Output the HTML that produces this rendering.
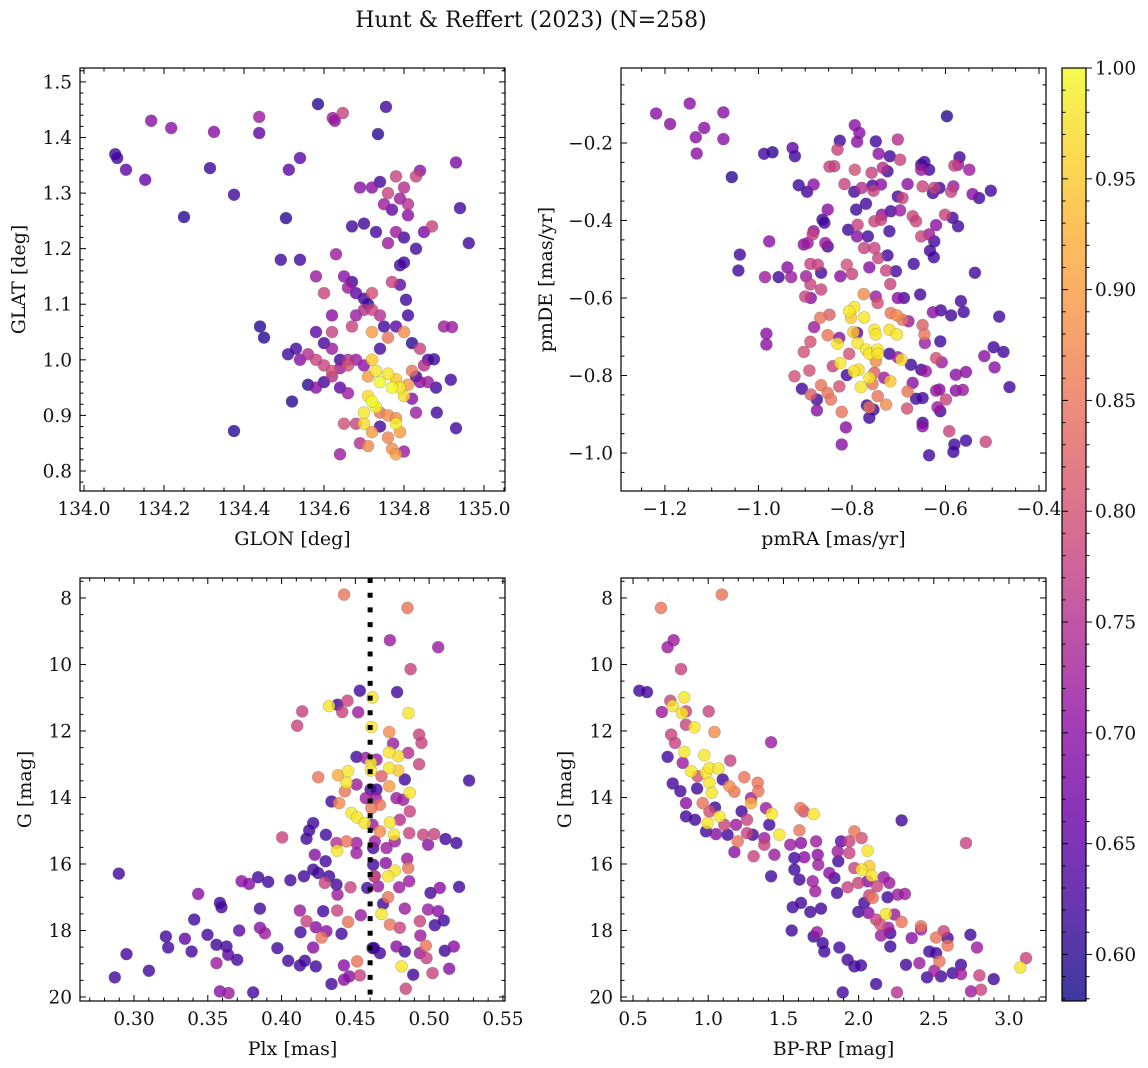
<!DOCTYPE html>
<html><head><meta charset="utf-8"><style>
html,body{margin:0;padding:0;background:#fff;}
svg{display:block;font-family:"DejaVu Serif","Liberation Serif",serif;}
</style></head><body>
<svg id="fig" width="1148" height="1068" viewBox="0 0 1148 1068" xmlns="http://www.w3.org/2000/svg">
<defs>
<linearGradient id="plasmaGrad" x1="0" y1="1" x2="0" y2="0"></linearGradient>
</defs>
<text x="531" y="27" font-size="22" text-anchor="middle" fill="#111">Hunt &amp; Reffert (2023) (N=258)</text>
</svg>
<script>
// ---- data (data units: [x, y, colour value]) ----
const glonGlatPts = [
[134.078,1.370,.62],[134.083,1.363,.62],[134.105,1.342,.65],[134.153,1.324,.66],[134.168,1.430,.70],[134.218,1.417,.70],[134.25,1.257,.60],[134.325,1.41,.70],[134.315,1.345,.62],[134.375,0.872,.60],[134.375,1.297,.62],[134.438,1.437,.72],[134.438,1.408,.65],[134.505,1.255,.60],[134.492,1.18,.62],[134.512,1.342,.65],[134.54,1.363,.65],[134.585,1.46,.60],[134.622,1.435,.72],[134.627,1.43,.70],[134.647,1.444,.78],[134.755,1.455,.62],[134.735,1.406,.60],[134.93,1.355,.68],[134.94,1.273,.62],[134.962,1.21,.62],[134.92,1.059,.72],[134.875,1.001,.62],[134.917,0.964,.62],[134.882,0.905,.62],[134.93,0.877,.62],[134.805,1.108,.62],
[134.72,1.31,.7],[134.74,1.32,.62],[134.76,1.30,.78],[134.78,1.33,.78],[134.80,1.31,.75],[134.79,1.29,.72],[134.81,1.28,.75],[134.83,1.33,.78],[134.84,1.34,.7],[134.77,1.27,.65],[134.75,1.28,.72],[134.73,1.23,.62],[134.81,1.26,.7],[134.85,1.23,.68],[134.87,1.24,.78],[134.80,1.22,.62],[134.83,1.20,.62],[134.78,1.23,.72],[134.76,1.21,.72],[134.79,1.17,.62],[134.80,1.175,.62],[134.69,1.31,.7],[134.70,1.245,.62],[134.67,1.24,.62],
[134.54,1.18,.62],[134.58,1.15,.72],[134.60,1.12,.78],[134.62,1.05,.78],[134.63,1.19,.72],[134.65,1.15,.7],[134.66,1.13,.72],[134.67,1.14,.62],[134.68,1.12,.65],[134.70,1.11,.62],[134.71,1.10,.6],[134.72,1.09,.78],[134.74,1.08,.75],[134.75,1.06,.62],[134.77,1.14,.78],[134.79,1.135,.65],[134.81,1.08,.62],[134.78,1.06,.65],[134.72,1.12,.8],[134.68,1.08,.72],[134.70,1.09,.75],[134.67,1.06,.78],[134.62,1.08,.7],[134.58,1.05,.65],[134.60,1.03,.62],[134.44,1.06,.6],[134.45,1.04,.6],[134.51,1.01,.62],[134.53,1.02,.62],[134.54,1.00,.7],[134.52,0.925,.6],[134.62,1.02,.72],[134.64,1.0,.62],[134.66,1.00,.75],
[134.56,1.01,.75],[134.58,1.00,.78],[134.60,0.99,.78],[134.62,0.98,.8],[134.64,0.985,.72],[134.66,0.99,.8],[134.68,1.00,.72],[134.70,0.99,.7],[134.72,1.05,.9],[134.76,1.04,.85],[134.74,1.02,.62],[134.80,1.05,.88],[134.82,1.03,.6],[134.60,0.96,.62],[134.62,0.97,.75],[134.64,0.95,.65],[134.66,0.94,.72],[134.58,0.95,.7],[134.56,0.955,.6],[134.72,1.00,.95],[134.73,0.98,.98],[134.71,0.97,.9],[134.74,0.96,1.0],[134.76,0.975,.98],[134.78,0.965,.95],[134.77,0.95,1.0],[134.79,0.95,.98],[134.80,0.935,.97],[134.81,0.955,.9],[134.71,0.935,.97],[134.72,0.925,1.0],[134.73,0.915,.99],[134.70,0.905,.98],[134.74,0.905,.85],[134.76,0.9,.88],[134.78,0.895,.88],[134.70,0.885,.97],[134.68,0.885,.78],[134.72,0.87,.9],[134.74,0.88,.62],[134.76,0.86,.87],[134.78,0.885,.99],[134.79,0.87,.9],[134.77,0.84,.88],[134.78,0.83,.9],[134.71,0.845,.88],[134.69,0.85,.75],[134.64,0.83,.72],[134.65,0.885,.8],[134.80,0.835,.72],[134.83,0.97,.62],[134.84,0.96,.7],[134.85,0.99,.75],[134.86,0.96,.72],[134.82,0.93,.7],[134.83,0.905,.72],[134.88,0.95,.62],[134.82,0.98,.85],[134.86,1.00,.62],[134.84,1.02,.78],[134.90,1.06,.72]
];
const pmPts = [
[-1.219,-0.124,.7],[-1.189,-0.151,.7],[-1.147,-0.098,.7],[-1.116,-0.161,.7],[-1.134,-0.185,.7],[-1.132,-0.227,.7],[-1.075,-0.121,.7],[-1.075,-0.190,.7],[-1.057,-0.288,.6],[-0.988,-0.228,.62],[-0.970,-0.224,.6],[-0.927,-0.213,.65],[-0.922,-0.234,.62],[-0.914,-0.309,.62],[-0.882,-0.307,.7],[-0.896,-0.326,.62],[-0.597,-0.131,.6],[-0.977,-0.454,.7],[-1.040,-0.488,.62],[-1.043,-0.529,.62],[-0.986,-0.546,.72],[-0.957,-0.546,.62],[-0.930,-0.546,.72],[-0.983,-0.692,.7],[-0.983,-0.720,.7],
[-0.794,-0.154,.7],[-0.784,-0.174,.7],[-0.789,-0.197,.7],[-0.826,-0.194,.62],[-0.831,-0.217,.78],[-0.749,-0.196,.62],[-0.702,-0.191,.75],[-0.743,-0.228,.7],[-0.719,-0.234,.62],[-0.697,-0.243,.78],[-0.838,-0.260,.78],[-0.848,-0.261,.78],[-0.794,-0.269,.8],[-0.758,-0.277,.78],[-0.734,-0.264,.75],[-0.724,-0.273,.62],[-0.816,-0.306,.78],[-0.795,-0.326,.62],[-0.779,-0.316,.75],[-0.754,-0.323,.78],[-0.756,-0.310,.62],[-0.738,-0.307,.7],[-0.702,-0.338,.62],[-0.692,-0.342,.78],[-0.681,-0.306,.7],[-0.652,-0.256,.62],[-0.645,-0.249,.62],[-0.652,-0.269,.72],[-0.635,-0.269,.62],[-0.649,-0.312,.78],[-0.624,-0.316,.78],[-0.627,-0.329,.62],[-0.613,-0.316,.62],[-0.581,-0.258,.78],[-0.570,-0.237,.62],[-0.573,-0.256,.72],[-0.549,-0.269,.72],[-0.583,-0.312,.72],[-0.588,-0.326,.78],[-0.542,-0.332,.7],[-0.528,-0.342,.62],[-0.503,-0.323,.62],
[-0.852,-0.372,.7],[-0.863,-0.398,.62],[-0.859,-0.406,.62],[-0.882,-0.428,.7],[-0.884,-0.436,.78],[-0.903,-0.462,.7],[-0.895,-0.458,.72],[-0.857,-0.458,.72],[-0.852,-0.467,.62],[-0.791,-0.372,.62],[-0.770,-0.357,.62],[-0.752,-0.402,.78],[-0.738,-0.398,.78],[-0.736,-0.385,.7],[-0.717,-0.376,.62],[-0.697,-0.374,.72],[-0.670,-0.389,.78],[-0.663,-0.402,.78],[-0.620,-0.412,.7],[-0.601,-0.385,.78],[-0.585,-0.393,.62],[-0.573,-0.415,.62],[-0.808,-0.424,.62],[-0.788,-0.411,.78],[-0.789,-0.441,.7],[-0.766,-0.441,.62],[-0.720,-0.428,.62],[-0.652,-0.441,.78],[-0.635,-0.436,.72],[-0.624,-0.454,.62],[-0.633,-0.478,.62],[-0.625,-0.495,.62],[-0.774,-0.471,.78],[-0.752,-0.471,.78],[-0.744,-0.497,.78],[-0.724,-0.490,.62],[-0.668,-0.512,.62],[-0.889,-0.512,.78],[-0.873,-0.514,.78],[-0.866,-0.535,.62],[-0.938,-0.521,.7],[-0.898,-0.544,.72],[-0.889,-0.565,.78],[-0.900,-0.596,.78],[-0.888,-0.600,.7],[-0.866,-0.578,.78],[-0.825,-0.544,.7],[-0.811,-0.514,.8],[-0.800,-0.538,.78],[-0.763,-0.521,.7],[-0.727,-0.529,.78],[-0.706,-0.531,.62],[-0.718,-0.564,.78],[-0.537,-0.535,.62],
[-0.775,-0.590,.88],[-0.749,-0.596,.72],[-0.745,-0.613,.8],[-0.702,-0.600,.7],[-0.689,-0.600,.62],[-0.654,-0.591,.62],[-0.567,-0.608,.62],[-0.627,-0.637,.7],[-0.610,-0.632,.62],[-0.588,-0.645,.62],[-0.561,-0.636,.62],[-0.485,-0.648,.62],[-0.868,-0.651,.85],[-0.848,-0.643,.82],[-0.795,-0.624,.98],[-0.806,-0.634,.98],[-0.802,-0.651,.95],[-0.774,-0.650,.98],[-0.717,-0.639,.85],[-0.704,-0.645,.88],[-0.692,-0.656,.85],[-0.679,-0.660,.72],[-0.752,-0.682,.98],[-0.749,-0.694,.98],[-0.720,-0.682,.97],[-0.704,-0.694,.98],[-0.797,-0.688,.95],[-0.789,-0.690,.65],[-0.788,-0.716,.98],[-0.649,-0.670,.82],[-0.645,-0.694,.85],[-0.644,-0.716,.72],[-0.611,-0.712,.62],[-0.881,-0.675,.72],[-0.852,-0.696,.85],[-0.831,-0.718,.98],[-0.827,-0.703,.7],[-0.889,-0.713,.8],[-0.903,-0.739,.8],[-0.806,-0.744,.8],[-0.770,-0.733,.98],[-0.763,-0.744,.98],[-0.745,-0.733,.98],[-0.745,-0.744,.98],[-0.749,-0.763,.88],[-0.720,-0.744,.62],[-0.702,-0.753,.72],[-0.694,-0.759,.97],[-0.674,-0.772,.62],[-0.652,-0.785,.62],[-0.642,-0.789,.72],[-0.620,-0.755,.8],[-0.608,-0.766,.72],[-0.517,-0.750,.7],[-0.497,-0.727,.62],[-0.476,-0.739,.62],[-0.495,-0.779,.7],[-0.463,-0.830,.62],[-0.578,-0.798,.7],[-0.556,-0.791,.7],
[-0.841,-0.776,.78],[-0.825,-0.768,.98],[-0.811,-0.799,.62],[-0.796,-0.789,.98],[-0.786,-0.785,.97],[-0.763,-0.806,.98],[-0.752,-0.793,.82],[-0.718,-0.815,.95],[-0.781,-0.830,.98],[-0.756,-0.822,.85],[-0.731,-0.806,.72],[-0.681,-0.841,.85],[-0.670,-0.819,.7],[-0.663,-0.860,.62],[-0.649,-0.858,.62],[-0.923,-0.802,.8],[-0.891,-0.787,.8],[-0.907,-0.834,.62],[-0.888,-0.849,.82],[-0.866,-0.825,.85],[-0.852,-0.845,.85],[-0.845,-0.862,.85],[-0.875,-0.862,.62],[-0.827,-0.828,.8],[-0.822,-0.894,.85],[-0.875,-0.890,.7],[-0.763,-0.882,.85],[-0.768,-0.877,.62],[-0.763,-0.909,.62],[-0.754,-0.888,.62],[-0.745,-0.853,.85],[-0.727,-0.875,.88],[-0.682,-0.885,.8],[-0.620,-0.839,.72],[-0.617,-0.882,.72],[-0.611,-0.892,.62],[-0.613,-0.836,.7],[-0.599,-0.862,.78],[-0.578,-0.839,.7],[-0.563,-0.837,.72],[-0.649,-0.922,.62],[-0.649,-0.931,.7],[-0.592,-0.944,.78],[-0.556,-0.968,.62],[-0.581,-0.978,.62],[-0.583,-0.997,.62],[-0.514,-0.971,.78],[-0.635,-1.006,.62],[-0.813,-0.934,.7],[-0.822,-0.978,.7]
];
const plxGPts = [
[0.4424,7.90,.85],[0.4853,8.30,.85],[0.4734,9.27,.72],[0.5061,9.48,.72],[0.4874,10.14,.78],[0.4530,10.79,.62],[0.4783,10.83,.62],[0.4616,10.99,.98],[0.4322,11.25,.98],[0.4379,11.21,.62],[0.4447,11.09,.78],[0.4411,11.43,.78],[0.4519,11.44,.72],[0.4860,11.46,.98],[0.4140,11.41,.78],[0.4106,11.84,.78],[0.4609,11.88,.98],[0.4729,12.03,.88],[0.4932,12.11,.78],[0.4948,12.36,.78],[0.4756,12.38,.72],[0.4508,12.78,.62],[0.4571,12.81,.72],[0.4643,12.86,.72],[0.4729,12.64,.98],[0.4790,12.76,.97],[0.4858,12.66,.75],[0.4932,13.00,.78],[0.4605,12.96,.98],[0.4451,13.21,.98],[0.4383,13.33,.92],[0.4440,13.56,.98],[0.4248,13.39,.85],[0.4605,13.19,.98],[0.4677,13.36,.82],[0.4729,13.11,.98],[0.4790,13.19,.95],[0.4835,13.46,.62],[0.4729,13.66,.9],[0.4643,13.76,.62],[0.4639,14.02,.72],[0.4869,13.86,.98],[0.4824,14.07,.72],[0.4338,14.12,.62],[0.4390,14.17,.88],[0.4429,13.81,.85],[0.4508,13.61,.72],[0.4571,14.02,.72],[0.4666,14.22,.85],[0.4779,14.02,.72],[0.4869,14.42,.78],[0.4474,14.47,.98],[0.4512,14.60,.98],[0.4564,14.77,.98],[0.4666,15.02,.88],[0.4734,14.75,.98],[0.4761,15.12,.98],[0.4801,14.67,.75],[0.4865,15.07,.78],[0.4214,14.77,.62],[0.4187,14.99,.62],[0.4169,15.24,.62],[0.4300,15.12,.62],[0.4372,15.37,.75],[0.4440,15.32,.85],[0.4508,15.37,.72],[0.4508,15.67,.72],[0.4377,15.60,.98],[0.4004,15.20,.78],[0.4225,15.72,.7],[0.4298,15.92,.62],[0.4632,15.32,.72],[0.4711,15.52,.72],[0.4767,15.32,.72],[0.4851,15.84,.72],[0.4858,16.12,.85],[0.4767,16.20,.98],[0.4722,16.37,.98],[0.4706,15.97,.7],[0.4959,15.12,.78],[0.5034,15.10,.78],[0.4993,15.42,.7],[0.5111,15.25,.62],[0.5185,15.37,.62],
[0.4214,16.17,.62],[0.4248,16.27,.62],[0.4151,16.37,.62],[0.4060,16.49,.62],[0.4293,16.57,.78],[0.4322,16.37,.62],[0.4372,16.62,.62],[0.4379,16.92,.72],[0.4467,16.70,.78],[0.4580,16.72,.62],[0.4632,16.37,.78],[0.4654,16.67,.72],[0.4797,16.70,.72],[0.4865,16.52,.72],[0.4722,17.00,.85],[0.4688,17.20,.62],[0.4677,17.50,.98],[0.5009,16.87,.62],[0.5072,16.72,.7],[0.5203,16.69,.62],[0.5271,13.49,.62],[0.3909,16.54,.62],[0.3841,16.40,.62],[0.3729,16.52,.7],[0.3780,16.60,.7],[0.3435,16.90,.7],[0.2897,16.29,.62],[0.3582,17.17,.62],[0.3593,17.30,.62],[0.3853,17.34,.62],[0.4124,17.40,.72],[0.4282,17.42,.62],[0.4377,17.40,.78],[0.4537,17.54,.72],[0.4451,17.74,.85],[0.4169,17.72,.78],[0.4232,17.90,.7],[0.4128,18.05,.62],[0.4304,18.02,.7],[0.4406,18.10,.62],[0.4271,18.21,.85],[0.4734,17.82,.85],[0.4801,17.92,.78],[0.4835,17.34,.72],[0.4937,17.72,.78],[0.4993,17.37,.72],[0.5061,17.42,.7],[0.5038,17.84,.62],[0.5099,17.70,.62],[0.4941,18.15,.72],[0.4977,18.46,.85],[0.4982,18.83,.78],[0.4937,18.68,.72],[0.5106,18.61,.62],[0.5167,18.48,.7],[0.5136,19.15,.7],[0.4835,18.63,.62],[0.4779,18.48,.7],[0.4666,18.68,.62],[0.4616,18.53,.62],[0.4813,19.08,.98],[0.5023,19.28,.78],[0.4892,19.33,.62],[0.4842,19.75,.78],[0.4512,18.93,.85],[0.4530,19.35,.78],[0.4422,19.05,.7],[0.4458,19.38,.7],[0.4424,19.48,.7],[0.4338,19.61,.62],[0.4232,19.08,.62],[0.4214,18.51,.7],[0.4124,19.05,.62],[0.4158,18.91,.62],[0.4045,18.91,.62],[0.3972,18.53,.62],[0.3853,17.92,.7],[0.3887,18.08,.72],[0.3713,18.00,.65],[0.3699,18.88,.62],[0.3627,18.48,.62],[0.3638,18.73,.65],[0.3559,18.43,.62],[0.3559,18.98,.72],[0.3498,18.13,.62],[0.3408,17.67,.62],[0.3390,18.63,.62],[0.3345,18.25,.65],[0.3216,18.18,.62],[0.3232,18.51,.62],[0.2949,18.71,.62],[0.2870,19.41,.62],[0.3101,19.21,.62],[0.3582,19.83,.7],[0.3641,19.88,.72],[0.3808,19.86,.62],[0.4603,13.76,.62],[0.4609,14.32,.85],[0.4616,14.82,.72],[0.4621,15.52,.62],[0.4621,16.02,.62],[0.4627,16.37,.78],[0.4627,18.53,.62]
];
const cmdPts = [
[0.686,8.30,.85],[1.090,7.90,.85],[0.770,9.27,.72],[0.730,9.48,.72],[0.819,10.14,.78],[0.542,10.79,.62],[0.593,10.83,.62],[0.841,10.99,.98],[0.748,11.09,.78],[0.764,11.25,.98],[0.826,11.46,.98],[0.691,11.43,.72],[0.852,11.41,.78],[1.003,11.41,.78],[0.908,11.89,.98],[0.852,11.81,.78],[1.041,12.03,.88],[0.753,12.11,.78],[0.779,12.36,.78],[1.418,12.34,.72],[0.730,12.78,.62],[0.841,12.63,.98],[0.974,12.73,.98],[1.147,12.89,.78],[0.830,12.96,.72],[0.886,13.21,.98],[0.985,13.26,.98],[1.008,13.11,.98],[1.067,13.13,.98],[0.930,13.36,.8],[0.764,13.58,.62],[0.815,13.81,.62],[0.926,13.73,.62],[1.008,13.56,.98],[1.023,13.86,.98],[1.096,13.46,.62],[1.141,13.66,.88],[1.174,13.83,.85],[1.240,13.39,.85],[1.329,13.56,.85],[1.333,13.81,.85],[1.285,14.02,.72],[1.285,14.17,.92],[0.852,14.17,.7],[0.963,14.17,.85],[1.045,14.30,.62],[0.852,14.57,.62],[0.912,14.67,.62],[0.996,14.77,.98],[1.074,14.57,.98],[1.008,14.42,.8],[1.107,14.82,.78],[1.185,14.82,.72],[1.258,14.67,.78],[1.222,14.42,.62],[1.384,14.32,.72],[1.422,14.49,.98],[1.406,14.82,.62],[0.985,15.02,.62],[1.052,15.10,.7],[1.129,15.12,.62],[1.196,15.32,.85],[1.258,15.07,.78],[1.296,15.12,.62],[1.174,15.64,.7],[1.302,15.77,.78],[1.373,15.22,.72],[1.473,15.12,.98],[1.440,15.72,.72],[1.373,15.42,.78],[1.546,15.42,.72],[1.617,15.37,.7],[1.717,15.32,.72],[1.613,14.32,.85],[1.635,14.42,.8],[1.701,14.50,.98],[1.606,14.99,.85],[1.573,15.82,.62],[1.639,15.80,.7],[1.728,15.72,.7],[1.732,16.02,.72],[1.573,16.17,.62],[1.606,16.47,.62],[1.695,16.52,.72],[1.712,16.82,.72],[1.418,16.37,.62],[1.562,17.30,.62],[1.617,17.17,.62],[1.679,17.44,.62],[1.750,17.34,.62],[1.555,18.00,.62],[1.701,18.18,.62],[1.723,18.05,.72],[1.772,18.63,.62],[1.761,18.38,.62],[1.872,18.51,.62],[1.856,16.87,.62],[1.839,16.42,.62],[1.805,16.27,.7],[1.861,15.62,.72],[1.883,15.32,.65],[1.865,15.92,.62],[1.938,15.67,.78],[1.938,15.32,.78],[1.972,15.02,.85],[2.020,15.22,.8],[2.060,15.60,.98],[1.972,16.12,.78],[2.020,16.17,.98],[2.071,16.07,.95],[2.087,16.35,.98],[1.927,16.70,.78],[1.998,16.57,.78],[2.060,16.52,.7],[2.122,16.67,.78],[2.167,16.40,.72],[2.204,16.57,.72],[2.094,17.02,.85],[2.071,16.94,.78],[2.038,17.17,.62],[1.998,17.44,.62],[2.065,17.47,.7],[2.116,17.67,.78],[2.182,17.50,.98],[2.144,17.82,.8],[2.149,18.15,.72],[2.198,17.92,.72],[2.238,17.52,.72],[2.211,18.08,.62],[2.260,16.92,.72],[2.308,16.90,.72],[2.193,17.00,.62],[2.286,17.74,.85],[2.353,18.23,.7],[2.415,17.87,.85],[2.415,17.97,.72],[2.515,18.21,.85],[2.566,18.02,.78],[2.592,18.45,.85],[2.537,18.93,.85],[2.470,18.63,.62],[2.515,18.68,.62],[2.404,18.98,.72],[2.315,19.03,.62],[2.211,18.48,.62],[2.286,14.69,.62],[2.455,19.41,.62],[2.548,19.38,.62],[2.504,19.21,.72],[2.625,19.28,.62],[2.681,19.03,.62],[2.681,19.31,.72],[2.743,18.13,.62],[2.787,18.51,.72],[2.803,19.35,.78],[2.898,19.46,.62],[2.814,19.78,.78],[2.747,19.83,.72],[2.714,15.37,.78],[3.075,19.11,.98],[3.113,18.83,.78],[2.255,19.86,.75],[2.116,19.61,.62],[1.894,19.86,.62],[1.927,18.88,.62],[1.972,19.08,.62],[2.016,19.05,.62],[2.592,18.23,.62]
];
const colorRange = [0.579, 1.0];
const plxCut = [0.46];
const cbarTicks = [0.60,0.65,0.70,0.75,0.80,0.85,0.90,0.95,1.00];

// ---- helpers ----
const NS = "http://www.w3.org/2000/svg";
const svg = document.getElementById('fig');
function mk(tag, attrs, parent){const e=document.createElementNS(NS,tag);for(const k in attrs)e.setAttribute(k,attrs[k]);(parent||svg).appendChild(e);return e;}
const PL=[[0,13,8,135],[.1,65,4,157],[.2,106,0,168],[.3,143,13,164],[.4,177,42,144],[.5,204,71,120],[.6,225,100,98],[.7,242,132,75],[.8,252,166,54],[.9,252,206,37],[1,240,249,33]];
function plasma(t){t=Math.max(0,Math.min(1,t));for(let i=0;i<PL.length-1;i++){const a=PL[i],b=PL[i+1];if(t<=b[0]){const f=(t-a[0])/(b[0]-a[0]);return `rgb(${Math.round(a[1]+f*(b[1]-a[1]))},${Math.round(a[2]+f*(b[2]-a[2]))},${Math.round(a[3]+f*(b[3]-a[3]))})`;}}return 'rgb(240,249,33)';}
function cnorm(c){return (c-colorRange[0])/(colorRange[1]-colorRange[0]);}
function fmt(v,d){return (v<0?'\u2212':'')+Math.abs(v).toFixed(d);}
const TICKFS=18.5, LABFS=19;

function panel(o){
  const {id,L,T,W,H,xmin,xmax,ymin,ymax,invY,xMajor,xMinor,yMajor,yMinor,xd,yd,pts,xlabel,ylabel,ylabelX}=o;
  const sx=v=>L+(v-xmin)/(xmax-xmin)*W;
  const sy=v=> invY? T+(v-ymin)/(ymax-ymin)*H : T+H-(v-ymin)/(ymax-ymin)*H;
  const g=mk('g',{});
  
  
  const cid='clip-'+id;
  const cp=mk('clipPath',{id:cid},g);mk('rect',{x:L,y:T,width:W,height:H},cp);
  const pg=mk('g',{'clip-path':`url(#${cid})`},g);
  
  
  const sorted=pts.slice().sort((a,b)=>a[2]-b[2]);
  sorted.forEach(p=>{
    const c=mk('circle',{cx:sx(p[0]).toFixed(1),cy:sy(p[1]).toFixed(1),r:6,fill:plasma(cnorm(p[2])),'fill-opacity':0.8,stroke:'#555','stroke-opacity':0.35,'stroke-width':0.6},pg);
    
    
  });
  if(o.vline!==undefined){
    const ln=mk('line',{x1:sx(o.vline),x2:sx(o.vline),y1:T,y2:T+H,stroke:'#000','stroke-width':5,'stroke-dasharray':'5 9.7'},pg);
    
    
  }
  const tg=mk('g',{stroke:'#000','stroke-width':1},g);
  const eps=1e-9;
  for(let v=Math.ceil(xmin/xMinor-eps)*xMinor;v<=xmax+eps;v+=xMinor){
    const isMaj=Math.abs(v/xMajor-Math.round(v/xMajor))<1e-6;const len=isMaj?6:3.5;const x=sx(v);
    mk('line',{x1:x,x2:x,y1:T+H,y2:T+H-len},tg);mk('line',{x1:x,x2:x,y1:T,y2:T+len},tg);
    if(isMaj){const t=mk('text',{x:x,y:T+H+24,'font-size':TICKFS,'text-anchor':'middle',fill:'#111',stroke:'none'},g);t.textContent=fmt(v,xd);
      
      }
  }
  for(let v=Math.ceil(ymin/yMinor-eps)*yMinor;v<=ymax+eps;v+=yMinor){
    const isMaj=Math.abs(v/yMajor-Math.round(v/yMajor))<1e-6;const len=isMaj?6:3.5;const y=sy(v);
    mk('line',{x1:L,x2:L+len,y1:y,y2:y},tg);mk('line',{x1:L+W,x2:L+W-len,y1:y,y2:y},tg);
    if(isMaj){const t=mk('text',{x:L-8,y:y+6.5,'font-size':TICKFS,'text-anchor':'end',fill:'#111',stroke:'none'},g);t.textContent=fmt(v,yd);
      
      }
  }
  const fr=mk('rect',{x:L,y:T,width:W,height:H,fill:'none',stroke:'#000','stroke-width':1.2},g);
  
  
  const xl=mk('text',{x:L+W/2,y:T+H+54,'font-size':LABFS,'text-anchor':'middle',fill:'#111'},g);xl.textContent=xlabel;
  
  
  const yl=mk('text',{x:0,y:0,'font-size':LABFS,'text-anchor':'middle',fill:'#111',transform:`translate(${ylabelX},${T+H/2}) rotate(-90)`},g);yl.textContent=ylabel;
  
  
}

panel({id:'position',L:80,T:68,W:425,H:423,xmin:133.99,xmax:135.0525,ymin:0.764,ymax:1.525,xMajor:0.2,xMinor:0.05,yMajor:0.1,yMinor:0.02,xd:1,yd:1,pts:glonGlatPts,xlabel:'GLON [deg]',ylabel:'GLAT [deg]',ylabelX:25});
panel({id:'proper-motion',L:621,T:68,W:425,H:423,xmin:-1.294,xmax:-0.385,ymin:-1.098,ymax:-0.0065,xMajor:0.2,xMinor:0.05,yMajor:0.2,yMinor:0.05,xd:1,yd:1,pts:pmPts,xlabel:'pmRA [mas/yr]',ylabel:'pmDE [mas/yr]',ylabelX:552});
panel({id:'parallax',L:80,T:578,W:425,H:423,xmin:0.2634,xmax:0.5514,ymin:7.40,ymax:20.12,invY:true,xMajor:0.05,xMinor:0.01,yMajor:2,yMinor:0.5,xd:2,yd:0,pts:plxGPts,xlabel:'Plx [mas]',ylabel:'G [mag]',ylabelX:31,vline:plxCut[0]});
panel({id:'cmd',L:621,T:578,W:425,H:423,xmin:0.420,xmax:3.246,ymin:7.40,ymax:20.12,invY:true,xMajor:0.5,xMinor:0.1,yMajor:2,yMinor:0.5,xd:1,yd:0,pts:cmdPts,xlabel:'BP-RP [mag]',ylabel:'G [mag]',ylabelX:571});

// ---- colorbar ----
const grad=document.getElementById('plasmaGrad');
for(let i=0;i<=20;i++){const t=i/20;mk('stop',{offset:t,'stop-color':plasma(t),'stop-opacity':0.8},grad);}
const CL=1062,CT=68,CW=24,CH=933;
const cb=mk('rect',{x:CL,y:CT,width:CW,height:CH,fill:'url(#plasmaGrad)',stroke:'#000','stroke-width':1.2});


const cy=v=>CT+CH-(v-colorRange[0])/(colorRange[1]-colorRange[0])*CH;
for(let v=0.58;v<=1.0001;v+=0.01){const y=cy(v);const maj=Math.abs(v*20-Math.round(v*20))<1e-6;mk('line',{x1:CL+CW,x2:CL+CW+(maj?6:3.5),y1:y,y2:y,stroke:'#000','stroke-width':1});mk('line',{x1:CL,x2:CL+(maj?6:3.5),y1:y,y2:y,stroke:'#000','stroke-width':1});}
cbarTicks.forEach(v=>{const t=mk('text',{x:CL+CW+9,y:cy(v)+6.5,'font-size':TICKFS,fill:'#111'});t.textContent=v.toFixed(2);
  
  });
</script>
</body></html>
